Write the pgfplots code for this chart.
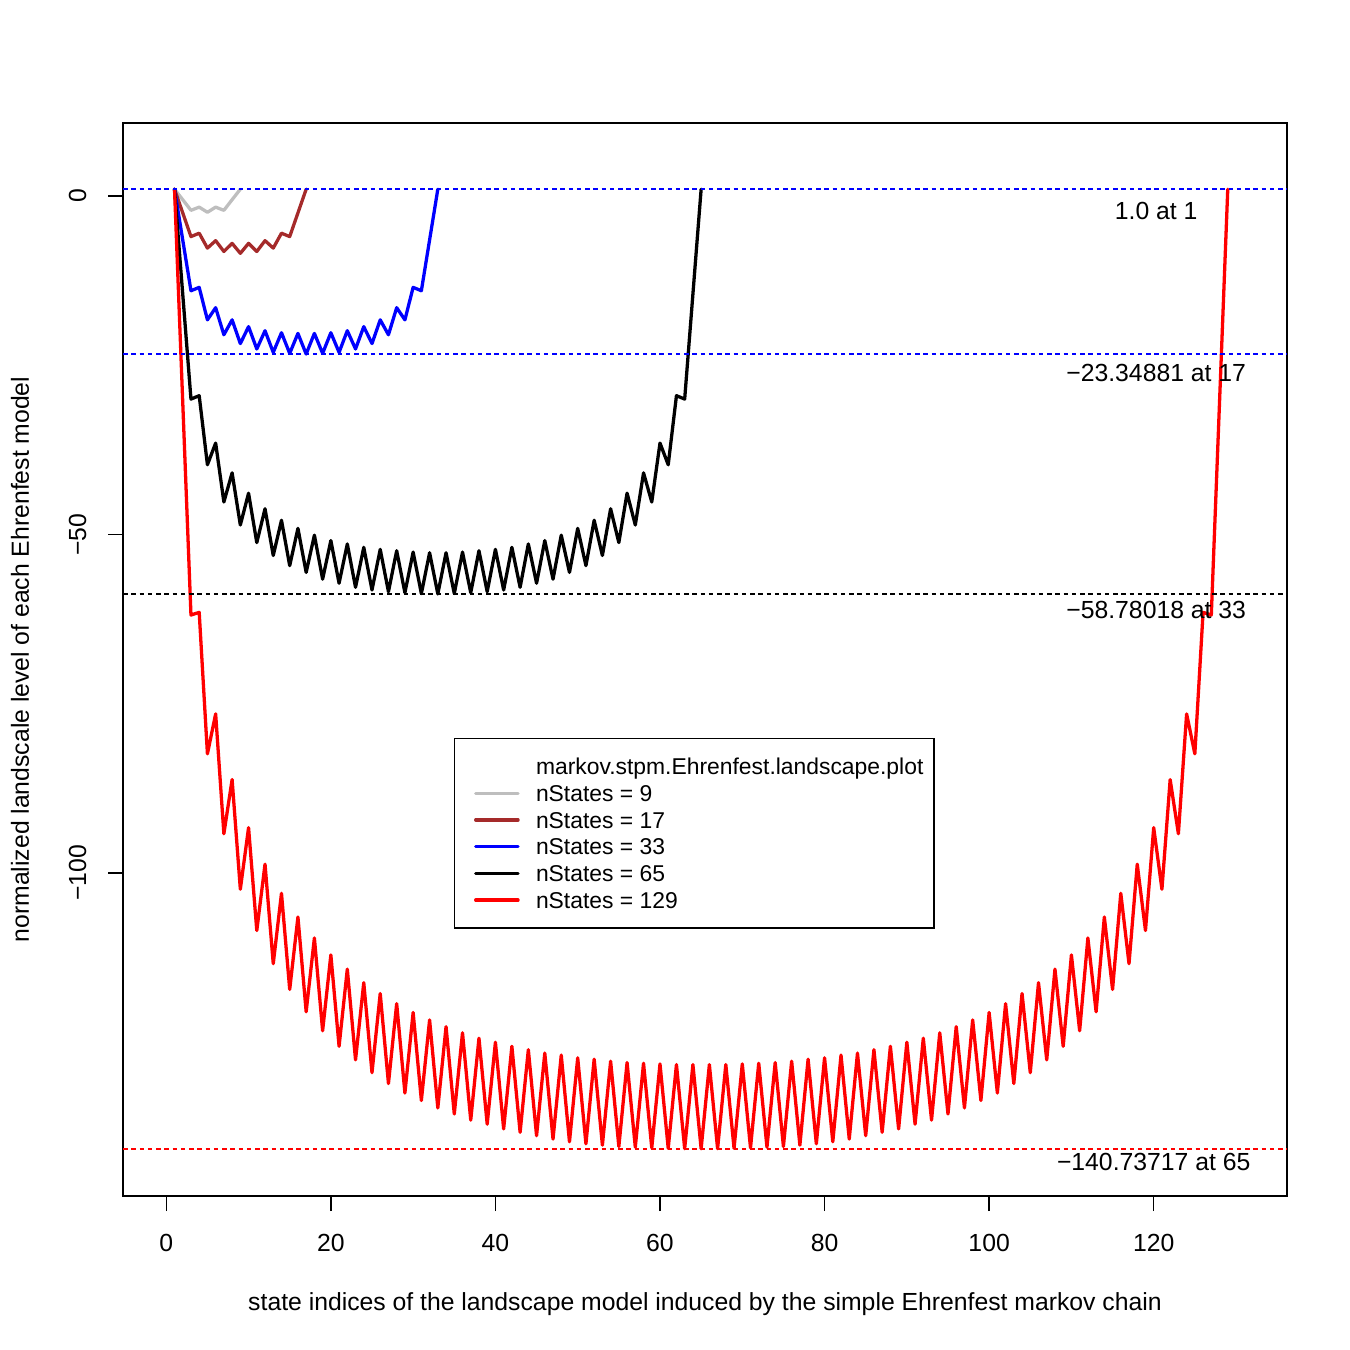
\documentclass[border=0pt]{standalone}
\usepackage{pgfplots}
\pgfplotsset{compat=1.18}
\usepackage{fontspec}
\setmainfont{Liberation Sans}

\definecolor{rgray}{HTML}{BEBEBE}
\definecolor{rbrown}{HTML}{A52A2A}

\pgfplotsset{
  landscape/.style={line width=1.75pt, line join=round, line cap=round, no markers},
  refline/.style={line width=0.95pt, dash pattern=on 2.4pt off 2pt, forget plot},
}

\begin{document}
\begin{tikzpicture}[font=\fontsize{13.2}{15.84}\selectfont]
\path[use as bounding box] (0,0) rectangle (720pt,720pt);
\begin{axis}[
  at={(65.6pt,82.13pt)}, anchor=south west,
  scale only axis, width=620.8pt, height=572.27pt,
  xmin=-5.26, xmax=136.2, ymin=-147.71, ymax=10.78,
  xtick={0,20,40,60,80,100,120}, ytick={-100,-50,0},
  xticklabels={}, yticklabels={},
  tick align=outside, xtick pos=bottom, ytick pos=left,
  major tick length=8pt,
  tick style={black, line width=0.75pt},
  axis line style={line width=0.75pt},
  clip=false,
  legend style={
    at={(axis cs:34.97,-80.06)}, anchor=north west,
    draw=black, line width=0.75pt,
    inner xsep=5.7pt, inner ysep=7.7pt,
    row sep=0pt, column sep=8.7pt,
    nodes={inner sep=0pt, text height=11.5pt, text depth=2.75pt},
    cells={anchor=west},
    font=\fontsize{12.2}{14.6}\selectfont,
  },
  legend image code/.code={\path (-4.6pt,0pt); \draw[#1] (0pt,0pt) -- (22.6pt,0pt);},
]
\addlegendimage{empty legend}
\addlegendentry{markov.stpm.Ehrenfest.landscape.plot}

% nStates = 9
\addplot[landscape, color=rgray] coordinates {
(1,1) (2,-0.55) (3,-2.12) (4,-1.65) (5,-2.41) (6,-1.65) (7,-2.12) (8,-0.55) (9,1)};
\addlegendentry{nStates = 9}

% nStates = 17
\addplot[landscape, color=rbrown] coordinates {
(1,1) (2,-2.5) (3,-6.0) (4,-5.5) (5,-7.7) (6,-6.6) (7,-8.2) (8,-7.0) (9,-8.47)
(10,-7.0) (11,-8.2) (12,-6.6) (13,-7.7) (14,-5.5) (15,-6.0) (16,-2.5) (17,1)};
\addlegendentry{nStates = 17}

% nStates = 33
\addplot[landscape, color=blue] coordinates {
(1,1) (2,-6.5) (3,-14.0) (4,-13.5) (5,-18.3) (6,-16.5) (7,-20.5) (8,-18.3)
(9,-21.8) (10,-19.3) (11,-22.6) (12,-19.9) (13,-23.1) (14,-20.2) (15,-23.25) (16,-20.3)
(17,-23.34881)
(18,-20.3) (19,-23.25) (20,-20.2) (21,-23.1) (22,-19.9) (23,-22.6) (24,-19.3) (25,-21.8)
(26,-18.3) (27,-20.5) (28,-16.5) (29,-18.3) (30,-13.5) (31,-14.0) (32,-6.5) (33,1)};
\addlegendentry{nStates = 33}

% nStates = 65
\addplot[landscape, color=black] coordinates {
(1,1) (2,-14.5) (3,-30.0) (4,-29.5) (5,-39.7) (6,-36.5) (7,-45.2) (8,-40.9)
(9,-48.6) (10,-43.9) (11,-51.2) (12,-46.2) (13,-53.1) (14,-47.9) (15,-54.6) (16,-49.1)
(17,-55.6) (18,-50.1) (19,-56.6) (20,-50.9) (21,-57.2) (22,-51.4) (23,-57.8) (24,-51.9)
(25,-58.2) (26,-52.2) (27,-58.45) (28,-52.4) (29,-58.6) (30,-52.6) (31,-58.72) (32,-52.7)
(33,-58.78018)
(34,-52.7) (35,-58.72) (36,-52.6) (37,-58.6) (38,-52.4) (39,-58.45) (40,-52.2) (41,-58.2)
(42,-51.9) (43,-57.8) (44,-51.4) (45,-57.2) (46,-50.9) (47,-56.6) (48,-50.1) (49,-55.6)
(50,-49.1) (51,-54.6) (52,-47.9) (53,-53.1) (54,-46.2) (55,-51.2) (56,-43.9) (57,-48.6)
(58,-40.9) (59,-45.2) (60,-36.5) (61,-39.7) (62,-29.5) (63,-30.0) (64,-14.5) (65,1)};
\addlegendentry{nStates = 65}

% nStates = 129
\addplot[landscape, color=red] coordinates {
(1,1) (2,-30.45) (3,-61.9) (4,-61.5) (5,-82.4) (6,-76.5) (7,-94.2) (8,-86.2)
(9,-102.4) (10,-93.3) (11,-108.5) (12,-98.7) (13,-113.4) (14,-103.0) (15,-117.2) (16,-106.5)
(17,-120.5) (18,-109.6) (19,-123.3) (20,-112.1) (21,-125.6) (22,-114.2) (23,-127.6) (24,-116.2)
(25,-129.5) (26,-117.8) (27,-131.1) (28,-119.3) (29,-132.5) (30,-120.6) (31,-133.6) (32,-121.7)
(33,-134.7) (34,-122.7) (35,-135.6) (36,-123.6) (37,-136.5) (38,-124.4) (39,-137.1) (40,-125.0)
(41,-137.8) (42,-125.6) (43,-138.3) (44,-126.1) (45,-138.8) (46,-126.6) (47,-139.3) (48,-126.9)
(49,-139.7) (50,-127.3) (51,-140.0) (52,-127.5) (53,-140.2) (54,-127.8) (55,-140.4) (56,-128.0)
(57,-140.5) (58,-128.1) (59,-140.6) (60,-128.2) (61,-140.67) (62,-128.3) (63,-140.72) (64,-128.3)
(65,-140.73717)
(66,-128.3) (67,-140.72) (68,-128.3) (69,-140.67) (70,-128.2) (71,-140.6) (72,-128.1) (73,-140.5)
(74,-128.0) (75,-140.4) (76,-127.8) (77,-140.2) (78,-127.5) (79,-140.0) (80,-127.3) (81,-139.7)
(82,-126.9) (83,-139.3) (84,-126.6) (85,-138.8) (86,-126.1) (87,-138.3) (88,-125.6) (89,-137.8)
(90,-125.0) (91,-137.1) (92,-124.4) (93,-136.5) (94,-123.6) (95,-135.6) (96,-122.7) (97,-134.7)
(98,-121.7) (99,-133.6) (100,-120.6) (101,-132.5) (102,-119.3) (103,-131.1) (104,-117.8) (105,-129.5)
(106,-116.2) (107,-127.6) (108,-114.2) (109,-125.6) (110,-112.1) (111,-123.3) (112,-109.6) (113,-120.5)
(114,-106.5) (115,-117.2) (116,-103.0) (117,-113.4) (118,-98.7) (119,-108.5) (120,-93.3) (121,-102.4)
(122,-86.2) (123,-94.2) (124,-76.5) (125,-82.4) (126,-61.5) (127,-61.9) (128,-30.45) (129,1)};
\addlegendentry{nStates = 129}

% reference levels: top level and the minima of the larger chains
\addplot[refline, color=blue]  coordinates {(-5.26,1) (136.2,1)};
\addplot[refline, color=blue]  coordinates {(-5.26,-23.34881) (136.2,-23.34881)};
\addplot[refline, color=black] coordinates {(-5.26,-58.78018) (136.2,-58.78018)};
\addplot[refline, color=red]   coordinates {(-5.26,-140.73717) (136.2,-140.73717)};

\node[anchor=base] at (axis cs:120.3,-3.44)   {1.0 at 1};
\node[anchor=base] at (axis cs:120.3,-27.43)  {−23.34881 at 17};
\node[anchor=base] at (axis cs:120.3,-62.48)  {−58.78018 at 33};
\node[anchor=base] at (axis cs:120.0,-143.97) {−140.73717 at 65};

% tick labels
\node[anchor=base, yshift=-29.33pt] at (axis cs:0,-147.71)   {0};
\node[anchor=base, yshift=-29.33pt] at (axis cs:20,-147.71)  {20};
\node[anchor=base, yshift=-29.33pt] at (axis cs:40,-147.71)  {40};
\node[anchor=base, yshift=-29.33pt] at (axis cs:60,-147.71)  {60};
\node[anchor=base, yshift=-29.33pt] at (axis cs:80,-147.71)  {80};
\node[anchor=base, yshift=-29.33pt] at (axis cs:100,-147.71) {100};
\node[anchor=base, yshift=-29.33pt] at (axis cs:120,-147.71) {120};
\node[xshift=-19.7pt, rotate=90, anchor=base] at (axis cs:-5.26,0)    {0};
\node[xshift=-19.7pt, rotate=90, anchor=base] at (axis cs:-5.26,-50)  {−50};
\node[xshift=-19.7pt, rotate=90, anchor=base] at (axis cs:-5.26,-100) {−100};
\end{axis}
\node[anchor=base] at (376pt,20.8pt) {state indices of the landscape model induced by the simple Ehrenfest markov chain};
\node[rotate=90, anchor=base] at (15.36pt,368.3pt) {normalized landscale level of each Ehrenfest model};
\end{tikzpicture}
\end{document}
